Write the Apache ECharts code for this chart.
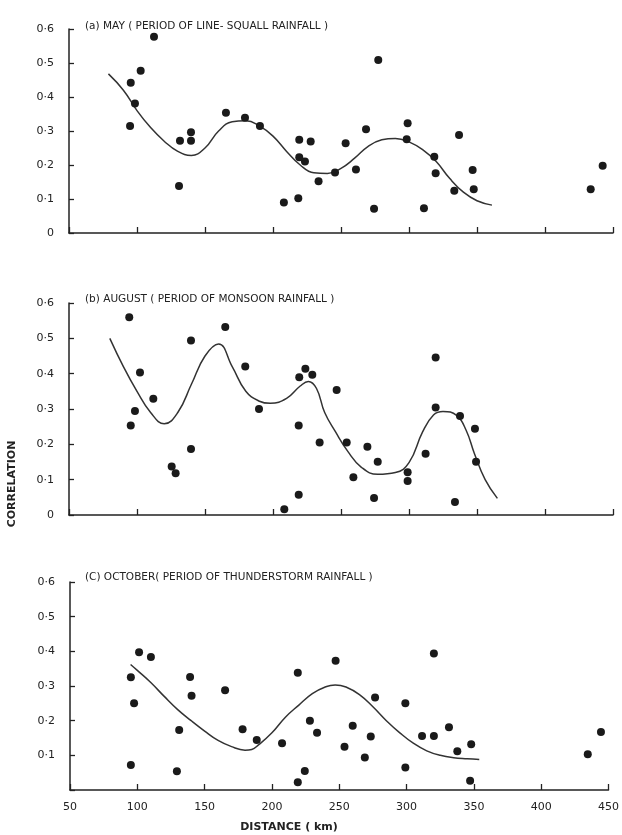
<!DOCTYPE html>
<html>
<head>
<meta charset="utf-8">
<script src="https://cdn.jsdelivr.net/npm/echarts@6/dist/echarts.min.js"></script>
<style>
  html, body { margin: 0; padding: 0; background: #fff; }
  #chart { width: 622px; height: 835px; }
</style>
</head>
<body>
<div id="chart"></div>
<script>
// x axis ticks (distance, km)
var distTicks = [50, 100, 150, 200, 250, 300, 350, 400, 450]

// (a) May - observed points [distance, correlation]
var mayPoints = [
  [95.4, 0.442], [102.7, 0.477], [112.5, 0.577], [98.5, 0.381], [94.9, 0.315],
  [131.6, 0.271], [139.7, 0.296], [139.7, 0.271], [130.9, 0.138], [165.4, 0.354],
  [179.4, 0.339], [190.4, 0.315], [208, 0.09], [218.6, 0.102], [219.3, 0.274],
  [219.3, 0.223], [223.5, 0.21], [227.7, 0.269], [233.5, 0.152], [245.6, 0.178],
  [253.4, 0.264], [261, 0.187], [268.4, 0.305], [274.3, 0.071], [277.4, 0.509],
  [299, 0.323], [298.3, 0.276], [311, 0.073], [318.6, 0.224], [319.6, 0.176],
  [333.3, 0.124], [336.8, 0.288], [346.8, 0.185], [347.6, 0.129], [433.6, 0.129],
  [442.4, 0.198]
]
// (a) May - fitted curve
var mayCurve = [
  [79, 0.468], [90, 0.42], [100, 0.36], [110, 0.31], [120, 0.27], [130, 0.24],
  [140, 0.228], [150, 0.25], [160, 0.3], [170, 0.327], [180, 0.33], [190, 0.315],
  [200, 0.285], [210, 0.24], [220, 0.2], [230, 0.177], [240, 0.175], [250, 0.19],
  [260, 0.22], [270, 0.255], [280, 0.274], [290, 0.278], [300, 0.268], [310, 0.245],
  [320, 0.21], [330, 0.16], [340, 0.12], [350, 0.095], [361, 0.082]
]

// (b) August - observed points
var augPoints = [
  [94.3, 0.56], [95.4, 0.253], [98.5, 0.294], [102.2, 0.403], [112, 0.329],
  [125.5, 0.137], [128.4, 0.118], [139.7, 0.494], [139.7, 0.187], [164.9, 0.532],
  [179.6, 0.42], [189.7, 0.3], [208.3, 0.016], [218.9, 0.057], [218.9, 0.253],
  [219.3, 0.39], [223.8, 0.414], [228.9, 0.397], [234.3, 0.205], [246.8, 0.354],
  [254.2, 0.205], [259.1, 0.107], [269.4, 0.193], [274.3, 0.048], [277, 0.151],
  [299, 0.121], [299, 0.096], [312.2, 0.173], [319.6, 0.446], [319.6, 0.304],
  [333.8, 0.037], [337.5, 0.28], [348.5, 0.244], [349.3, 0.151]
]
// (b) August - fitted curve
var augCurve = [
  [80, 0.5], [90, 0.42], [100, 0.35], [110, 0.29], [120, 0.258], [130, 0.29],
  [140, 0.37], [150, 0.45], [160, 0.484], [170, 0.42], [180, 0.35], [190, 0.322],
  [198, 0.316], [210, 0.33], [220, 0.365], [226, 0.378], [232, 0.358], [238, 0.29],
  [246, 0.235], [255, 0.18], [265, 0.135], [277, 0.115], [290, 0.12], [300, 0.148],
  [310, 0.235], [318, 0.283], [325, 0.293], [335, 0.282], [342, 0.24], [348, 0.175],
  [356, 0.1], [365, 0.047]
]

// (c) October - observed points
var octPoints = [
  [95.2, 0.325], [101.3, 0.397], [110.1, 0.384], [97.6, 0.25], [95.2, 0.072],
  [131.1, 0.173], [129.4, 0.054], [139.2, 0.326], [140.3, 0.272], [165.2, 0.288],
  [178.2, 0.175], [188.7, 0.144], [207.5, 0.135], [219.2, 0.338], [219.2, 0.022],
  [224.4, 0.055], [228.2, 0.2], [233.5, 0.165], [247.3, 0.373], [253.9, 0.125],
  [260, 0.185], [269, 0.094], [273.4, 0.154], [276.6, 0.267], [299.1, 0.25],
  [299.1, 0.065], [311.5, 0.156], [320.3, 0.156], [320.3, 0.394], [331.5, 0.181],
  [337.7, 0.112], [348, 0.132], [347.2, 0.027], [434.6, 0.103], [444.4, 0.167]
]
// (c) October - fitted curve
var octCurve = [
  [95, 0.362], [100, 0.345], [110, 0.31], [120, 0.27], [130, 0.232], [140, 0.2],
  [150, 0.17], [160, 0.143], [170, 0.125], [180, 0.115], [185, 0.117], [190, 0.13],
  [200, 0.165], [210, 0.21], [220, 0.245], [230, 0.278], [240, 0.298], [247, 0.303],
  [255, 0.297], [265, 0.275], [275, 0.24], [285, 0.2], [295, 0.165], [305, 0.135],
  [315, 0.113], [325, 0.1], [335, 0.093], [345, 0.09], [354, 0.088]
]

var panelTitles = [
  '(a) MAY ( PERIOD OF LINE- SQUALL RAINFALL )',
  '(b) AUGUST ( PERIOD OF MONSOON RAINFALL )',
  '(C) OCTOBER( PERIOD OF THUNDERSTORM RAINFALL )'
]

var ink = '#222'
var font = 'DejaVu Sans'

// grid boxes
var grids = [
  { left: 69, right: 9, top: 29, height: 204 },
  { left: 69, right: 9, top: 303, height: 212 },
  { left: 70, right: 6, top: 582, height: 208 }
]

function yLabel (showZero) {
  return function (v) {
    if (v === 0) return showZero ? '0' : ''
    return v.toFixed(1).replace('.', '·')
  }
}

var xAxis = []
var yAxis = []
for (var i = 0; i < 3; i++) {
  xAxis.push({
    type: 'value',
    gridIndex: i,
    min: distTicks[0],
    max: distTicks[distTicks.length - 1],
    interval: 50,
    splitLine: { show: false },
    axisLine: { lineStyle: { color: ink, width: 1.5 } },
    axisTick: { inside: true, length: 6, lineStyle: { color: ink, width: 1.3 } },
    axisLabel: {
      show: i === 2,
      color: ink,
      fontFamily: font,
      fontSize: 11,
      margin: 12,
      showMinLabel: true,
      showMaxLabel: true
    }
  })
  yAxis.push({
    type: 'value',
    gridIndex: i,
    min: 0,
    max: 0.6,
    interval: 0.1,
    splitLine: { show: false },
    axisLine: { show: true, lineStyle: { color: ink, width: 1.5 } },
    axisTick: { show: true, inside: true, length: 5, lineStyle: { color: ink, width: 1.3 } },
    axisLabel: {
      color: ink,
      fontFamily: font,
      fontSize: 11,
      margin: 15,
      formatter: yLabel(i !== 2)
    }
  })
}

var series = []
var pts = [mayPoints, augPoints, octPoints]
var curves = [mayCurve, augCurve, octCurve]
for (var j = 0; j < 3; j++) {
  series.push({
    type: 'line',
    xAxisIndex: j,
    yAxisIndex: j,
    data: curves[j],
    smooth: 0.45,
    showSymbol: false,
    lineStyle: { color: '#333', width: 1.5 },
    z: 2
  })
  series.push({
    type: 'scatter',
    xAxisIndex: j,
    yAxisIndex: j,
    data: pts[j],
    symbolSize: 8,
    itemStyle: { color: '#1a1a1a', opacity: 1 },
    z: 3
  })
}

var titleTops = [16, 289, 567]
var titles = panelTitles.map(function (t, k) {
  return {
    text: t,
    left: 80,
    top: titleTops[k],
    textStyle: { color: ink, fontFamily: font, fontSize: 10.5, fontWeight: 'normal' }
  }
})

var option = {
  animation: false,
  backgroundColor: '#fff',
  title: titles,
  grid: grids,
  xAxis: xAxis,
  yAxis: yAxis,
  series: series,
  graphic: [
    {
      type: 'text',
      x: 12,
      y: 484,
      rotation: Math.PI / 2,
      style: {
        text: 'CORRELATION',
        fill: ink,
        font: 'bold 11px "DejaVu Sans"',
        textAlign: 'center',
        textVerticalAlign: 'middle'
      }
    },
    {
      type: 'text',
      x: 289,
      y: 827,
      style: {
        text: 'DISTANCE ( km)',
        fill: ink,
        font: 'bold 11px "DejaVu Sans"',
        textAlign: 'center',
        textVerticalAlign: 'middle'
      }
    }
  ]
}

var myChart = echarts.init(document.getElementById('chart'))
myChart.setOption(option)
</script>
</body>
</html>
